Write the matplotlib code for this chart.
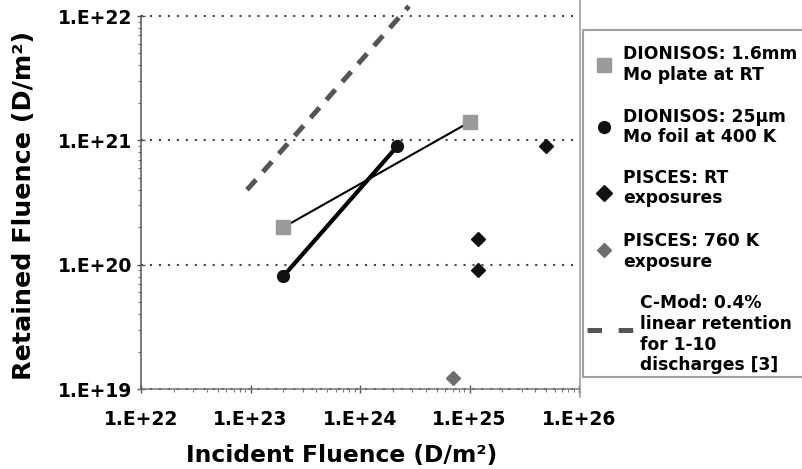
import matplotlib
matplotlib.use('Agg')
import matplotlib.pyplot as plt
from matplotlib.lines import Line2D
from matplotlib.patches import Rectangle
from matplotlib.ticker import NullFormatter

plt.rcParams['font.family'] = 'DejaVu Sans'

# DIONISOS: 1.6mm Mo plate at RT
plate_x = [2.0e23, 1.0e25]
plate_y = [2.0e20, 1.4e21]
# DIONISOS: 25um Mo foil at 400 K
foil_x = [2.0e23, 2.2e24]
foil_y = [8.1e19, 9.0e20]
# PISCES: RT exposures
rt_x = [1.2e25, 1.2e25, 5.0e25]
rt_y = [1.6e20, 9.0e19, 9.0e20]
# PISCES: 760 K exposure
hot_x = [7.0e24]
hot_y = [1.22e19]
# C-Mod: 0.4% linear retention
cmod_x = [9.3e22, 2.8e24]
cmod_y = [4.0e20, 1.2e22]

xticks = [1e22, 1e23, 1e24, 1e25, 1e26]
xtick_labels = ['1.E+22', '1.E+23', '1.E+24', '1.E+25', '1.E+26']
yticks = [1e19, 1e20, 1e21, 1e22]
ytick_labels = ['1.E+19', '1.E+20', '1.E+21', '1.E+22']

legend_labels = [
    ['DIONISOS: 1.6mm', 'Mo plate at RT'],
    ['DIONISOS: 25\u03bcm', 'Mo foil at 400 K'],
    ['PISCES: RT', 'exposures'],
    ['PISCES: 760 K', 'exposure'],
    ['C-Mod: 0.4%', 'linear retention', 'for 1-10', 'discharges [3]'],
]

W, H = 802, 469
gray_sq = '#9a9a9a'
gray_dm = '#6e6e6e'
dash_col = '#555555'


def fx(x):
    return x / W


def fy(y):
    return 1 - y / H


fig = plt.figure(figsize=(W / 100, H / 100), dpi=100)
ax = fig.add_axes([fx(141), fy(389), 438 / W, 373 / H])
ax.set_xscale('log')
ax.set_yscale('log')
ax.set_xlim(1e22, 1e26)
ax.set_ylim(1e19, 1e22)

ax.plot(cmod_x, cmod_y, color=dash_col, lw=3.6, ls=(0, (2.7, 2.1)),
        dash_capstyle='butt', clip_on=False, zorder=2)
ax.plot(plate_x, plate_y, '-s', color='black', lw=1.5, ms=9.4,
        mfc=gray_sq, mec=gray_sq, zorder=3)
ax.plot(foil_x, foil_y, '-o', color='black', lw=3, ms=8.5,
        mfc='#111111', mec='#111111', zorder=4)
ax.plot(rt_x, rt_y, 'D', color='#111111', ms=7.2, zorder=5)
ax.plot(hot_x, hot_y, 'D', color=gray_dm, ms=7.2, zorder=5, clip_on=False)

ax.set_xticks(xticks, xtick_labels, fontsize=13.5, fontweight='bold')
ax.set_yticks(yticks, ytick_labels, fontsize=13.5, fontweight='bold')
ax.xaxis.set_minor_formatter(NullFormatter())
ax.yaxis.set_minor_formatter(NullFormatter())
ax.tick_params(which='major', direction='inout', length=6, width=1,
               color='#555555')
ax.tick_params(axis='x', which='major', pad=12)
ax.tick_params(axis='y', which='major', pad=3.3)
ax.tick_params(which='minor', direction='out', length=2.5, width=0.8,
               color='#777777')

ax.grid(axis='y', which='major', color='#444444', ls=(0, (1, 3.3)), lw=1.5)
for t in ax.yaxis.get_major_ticks():
    t.gridline.set_clip_on(False)

ax.spines['top'].set_visible(False)
ax.spines['right'].set_visible(False)
ax.spines['left'].set_color('#555555')
ax.spines['bottom'].set_color('#777777')
ax.spines['left'].set_linewidth(1.1)
ax.spines['bottom'].set_linewidth(1.1)

fig.text(fx(24), fy(205), 'Retained Fluence (D/m\u00b2)', rotation=90,
         ha='center', va='center', fontsize=18.3, fontweight='bold')
fig.text(fx(342), fy(455), 'Incident Fluence (D/m\u00b2)',
         ha='center', va='center', fontsize=16.8, fontweight='bold')

# frame line right of the plot
fig.add_artist(Line2D([fx(580), fx(580)], [fy(397), 1], color='#999999', lw=1.1))

# legend box
fig.add_artist(Rectangle((fx(583), fy(377)), 300 / W, (377 - 30) / H,
                         facecolor='white', edgecolor='#a0a0a0', lw=1.5))
marker_y = [65, 127.3, 192.7, 250]
markers = [('s', gray_sq, 9.4), ('o', '#111111', 8.5), ('D', '#111111', 8), ('D', gray_dm, 7.5)]
for (m, c, s), y in zip(markers, marker_y):
    fig.add_artist(Line2D([fx(603.5)], [fy(y)], marker=m, ms=s, color=c, ls='none'))
fig.add_artist(Line2D([fx(587.3), fx(633.3)], [fy(330), fy(330)], color=dash_col,
                      lw=3.6, ls=(0, (2.9, 3.34)), dash_capstyle='butt'))

first_base = [59.3, 121.7, 182.7, 246, 308.3]
text_x = [623, 623, 623, 623, 640]
for lines, b, tx in zip(legend_labels, first_base, text_x):
    for i, line in enumerate(lines):
        fig.text(fx(tx), fy(b + i * 20.6), line, ha='left', va='baseline',
                 fontsize=12.3, fontweight='bold')

fig.savefig('out.png', dpi=100)
